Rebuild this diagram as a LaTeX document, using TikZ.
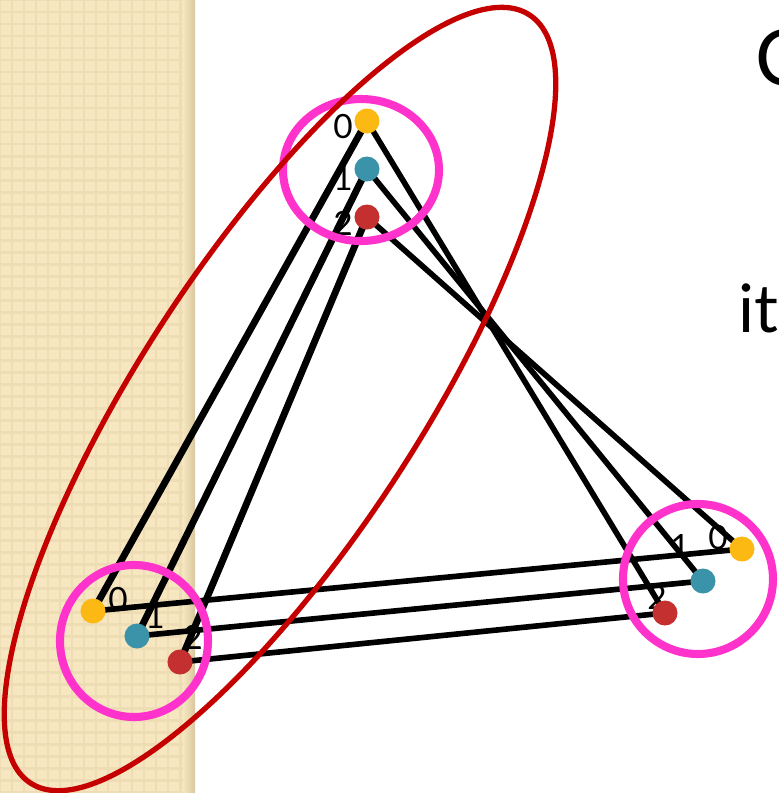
\documentclass[tikz,border=0pt]{standalone}
\usepackage{fontspec}
\setmainfont{Lato}
\usetikzlibrary{positioning}

\definecolor{dotorange}{HTML}{FDB913}
\definecolor{dotteal}{HTML}{3A93A8}
\definecolor{dotred}{HTML}{C3302F}
\definecolor{ringpink}{HTML}{FF33CC}
\definecolor{loopred}{HTML}{C40000}
\definecolor{paper}{HTML}{F7E7C0}
\definecolor{paperline}{HTML}{EEDDB4}
\definecolor{papershade}{HTML}{D9C79E}

\tikzset{
	ball/.style={circle, inner sep=0pt, minimum size=0.25cm, fill=#1}
}
\tikzset{
	idxtext/.style={font=\fontsize{9.5}{10}\selectfont, inner sep=0pt}
}
\tikzset{
	wire/.style={line width=1.6pt, line cap=round},
	thickwire/.style={line width=1.95pt, line cap=round},
	ring/.style={ringpink, line width=2.3pt}
}
\tikzset{
	slidetext/.style={font=\fontsize{#1}{#1}\selectfont, inner sep=0pt, anchor=base west}
}

\begin{document}
\begin{tikzpicture}[x=0.01cm, y=-0.01cm]

			\useasboundingbox (0,0) rectangle (779,793);
			\clip (0,0) rectangle (779,793);

			% textured strip on the left
			\begin{scope}
				\fill[paper] (0,0) rectangle (195,793);
				\draw[paperline, line width=0.8pt, step=0.12cm] (0,0) grid (184,793);
				\shade[left color=paper, right color=papershade] (183,0) rectangle (195,793);
			\end{scope}

			\begin{scope}
				\coordinate (tA) at (367,121);
				\coordinate (tB) at (367,169);
				\coordinate (tC) at (367,217);

				\coordinate (lA) at (93,611);
				\coordinate (lB) at (137,636);
				\coordinate (lC) at (180,662);

				\coordinate (rA) at (742,549);
				\coordinate (rB) at (703,581);
				\coordinate (rC) at (665,613);

				\node[idxtext] (tl0) at (343,127) {0};
				\node[idxtext] (tl1) at (343,178) {1};
				\node[idxtext] (tl2) at (343,223) {2};

				\node[idxtext] (ll0) at (118,600) {0};
				\node[idxtext] (ll1) at (155,616) {1};
				\node[idxtext] (ll2) at (193,637) {2};

				\node[idxtext] (rl0) at (718,538) {0};
				\node[idxtext] (rl1) at (680,546) {1};
				\node[idxtext] (rl2) at (657,597) {2};
			\end{scope}

			\begin{scope}
				\draw[thickwire] (tA) -- (lA);
				\draw[thickwire] (tB) -- (lB);
				\draw[thickwire] (tC) -- (lC);

				\draw[wire] (tA) -- (rC);
				\draw[wire] (tB) -- (rB);
				\draw[wire] (tC) -- (rA);

				\draw[wire] (lA) -- (rA);
				\draw[wire] (lB) -- (rB);
				\draw[wire] (lC) -- (rC);
			\end{scope}

			\begin{scope}
				\node[ball=dotorange] (t0) at (tA) {};
				\node[ball=dotteal] (t1) at (tB) {};
				\node[ball=dotred] (t2) at (tC) {};

				\node[ball=dotorange] (l0) at (lA) {};
				\node[ball=dotteal] (l1) at (lB) {};
				\node[ball=dotred] (l2) at (lC) {};

				\node[ball=dotorange] (r0) at (rA) {};
				\node[ball=dotteal] (r1) at (rB) {};
				\node[ball=dotred] (r2) at (rC) {};
			\end{scope}

			% rings round each group
			\coordinate (topring) at (361,170);
			\coordinate (leftring) at (134,641);
			\coordinate (rightring) at (698,579);
			\draw[ring] (topring) ellipse [x radius=78, y radius=71];
			\draw[ring] (leftring) ellipse [x radius=74, y radius=76];
			\draw[ring] (rightring) ellipse [x radius=75, y radius=75];

			\coordinate (hull) at (280,399);
			\draw[loopred, line width=1.5pt, rotate around={57:(hull)}] (hull) ellipse [x radius=458, y radius=140];

			\node[slidetext=22] (capC) at (755,85) {C};
			\node[slidetext=19] (capit) at (738,332) {it};

		\end{tikzpicture}
\end{document}
